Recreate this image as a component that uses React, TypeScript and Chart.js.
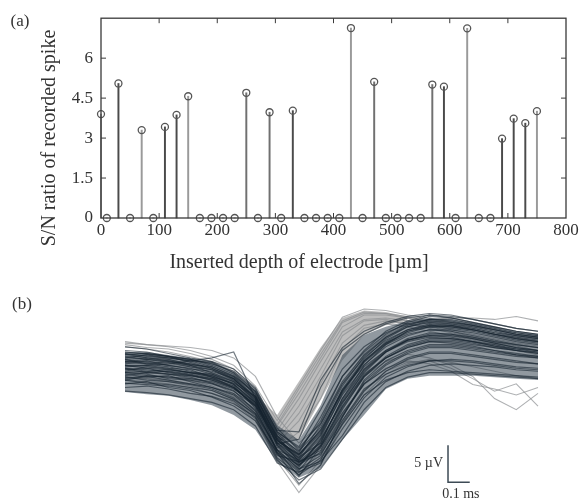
import React, { useEffect, useRef } from "react";
import { Chart, registerables } from "chart.js";
Chart.register(...registerables);

// ---------- Panel (a): S/N ratio vs inserted depth ----------
const depthsUm = [0, 10, 30, 50, 70, 90, 110, 130, 150, 170, 190, 210, 230, 250, 270, 290, 310, 330, 350, 370, 390, 410, 430, 450, 470, 490, 510, 530, 550, 570, 590, 610, 630, 650, 670, 690, 710, 730, 750];
const snRatio = [3.9, 0, 5.05, 0, 3.3, 0, 3.42, 3.87, 4.57, 0, 0, 0, 0, 4.7, 0, 3.97, 0, 4.03, 0, 0, 0, 0, 7.13, 0, 5.11, 0, 0, 0, 0, 5.01, 4.93, 0, 7.12, 0, 0, 2.98, 3.73, 3.56, 4.01];
const xTickValues = [0, 100, 200, 300, 400, 500, 600, 700, 800];
const yTickValues = [0, 1.5, 3, 4.5, 6];

// ---------- Panel (b): overlaid spike waveforms ----------
const sampleTimesMs = [0, 0.1, 0.2, 0.3, 0.4, 0.5, 0.6, 0.7, 0.8, 0.9, 1.0, 1.1, 1.2, 1.3, 1.4, 1.5, 1.6, 1.7, 1.8, 1.9];
const darkTracesUv: number[][] = [
  [3.6, 3.4, 3.1, 2.7, 2.0, 0.9, -1.4, -6.1, -8.1, -4.7, 0.7, 4.1, 6.5, 8.0, 8.8, 8.6, 8.0, 7.4, 6.8, 6.4],
  [5.5, 5.0, 4.8, 4.1, 3.8, 2.5, 0.2, -5.0, -7.0, -2.0, 3.5, 6.5, 8.4, 9.6, 10.2, 10.0, 9.4, 8.8, 8.2, 7.8],
  [1.5, 1.8, 1.0, 0.6, -0.3, -1.5, -3.5, -7.8, -9.5, -7.0, -2.5, 1.5, 3.5, 5.0, 5.8, 5.8, 5.4, 5.0, 4.6, 4.2],
  [4.2, 4.6, 4.0, 3.5, 3.2, 2.2, -0.5, -6.8, -9.8, -6.0, -1.0, 3.0, 5.8, 7.4, 8.2, 8.2, 7.6, 7.0, 6.4, 6.0],
  [2.8, 2.4, 2.6, 1.8, 1.0, 0.0, -2.5, -7.4, -8.8, -5.5, 0.0, 3.8, 6.0, 7.4, 8.0, 7.8, 7.2, 6.6, 6.0, 5.6],
  [6.5, 6.2, 5.6, 5.0, 4.5, 3.5, 1.0, -4.5, -7.5, -3.5, 2.5, 6.0, 8.6, 10.0, 10.8, 10.6, 10.2, 9.6, 9.0, 8.6],
  [0.5, 0.3, 0.0, -0.5, -1.0, -2.0, -4.2, -9.2, -10.5, -8.5, -4.0, 0.0, 2.0, 3.0, 3.4, 3.2, 3.0, 2.8, 2.6, 2.4],
  [3.2, 3.8, 3.5, 3.0, 2.6, 1.4, -1.0, -5.5, -9.0, -7.5, -2.0, 2.5, 5.0, 6.4, 7.2, 7.2, 6.8, 6.4, 6.0, 5.8],
  [4.8, 4.2, 4.5, 4.0, 3.0, 1.8, -0.8, -6.5, -8.5, -4.0, 1.5, 5.0, 7.4, 8.8, 9.4, 9.2, 8.8, 8.2, 7.6, 7.2],
  [2.0, 2.5, 2.0, 1.5, 1.0, 0.2, -2.0, -7.5, -10.0, -9.0, -5.5, -1.0, 1.8, 3.2, 4.0, 4.2, 4.0, 3.8, 3.4, 3.2],
  [5.0, 5.4, 5.0, 4.6, 4.4, 3.0, 0.5, -5.5, -8.0, -5.0, 0.5, 4.5, 7.0, 8.4, 9.2, 9.4, 8.8, 8.2, 7.8, 7.4],
  [3.0, 2.8, 2.2, 2.0, 1.5, 0.5, -1.5, -7.5, -11.0, -7.0, -1.5, 2.8, 5.0, 6.4, 7.2, 7.0, 6.6, 6.0, 5.6, 5.2],
  [4.0, 4.0, 3.6, 3.4, 2.4, 1.6, -0.2, -5.8, -8.4, -6.5, -0.5, 3.5, 6.0, 7.6, 8.4, 8.2, 7.8, 7.2, 6.8, 6.4],
  [1.0, 1.2, 0.8, 0.2, -0.2, -1.2, -3.0, -8.2, -9.0, -8.0, -3.5, 0.8, 2.8, 4.0, 4.6, 4.6, 4.4, 4.0, 3.6, 3.4],
  [5.8, 5.5, 5.2, 4.8, 4.0, 2.8, 0.0, -6.0, -9.0, -6.5, -0.5, 4.0, 6.8, 8.6, 9.4, 9.2, 8.8, 8.2, 7.6, 7.2],
  [3.5, 3.0, 3.2, 2.8, 2.2, 1.2, -1.8, -7.8, -12.0, -9.5, -3.0, 2.0, 4.6, 6.0, 6.8, 6.8, 6.4, 6.0, 5.4, 5.0],
  [2.4, 2.0, 1.8, 1.4, 0.8, -0.4, -2.8, -8.5, -10.8, -8.8, -3.8, 0.5, 3.2, 4.8, 5.6, 5.6, 5.2, 4.8, 4.4, 4.2],
  [4.5, 4.8, 4.4, 3.8, 3.4, 2.0, -0.2, -5.2, -7.8, -3.0, 2.5, 5.8, 8.2, 9.8, 10.6, 10.4, 9.8, 9.2, 8.6, 8.2],
  [6.0, 5.8, 5.2, 4.4, 3.6, 2.2, -0.8, -6.2, -8.2, -5.2, 0.8, 4.8, 7.6, 9.2, 10.0, 9.8, 9.4, 8.8, 8.2, 7.8],
  [2.2, 2.6, 2.4, 2.2, 1.8, 0.8, -1.2, -6.8, -9.4, -7.8, -2.8, 1.5, 4.0, 5.6, 6.4, 6.4, 6.0, 5.6, 5.2, 5.0],
  [3.8, 4.0, 4.2, 4.6, 5.0, 5.8, -0.5, -7.8, -10.2, -6.8, -1.2, 3.2, 5.8, 7.4, 8.0, 8.0, 7.6, 7.0, 6.4, 6.0],
  [4.6, 4.4, 4.0, 3.6, 2.8, 1.5, -1.0, -6.0, -8.8, -5.8, 0.2, 4.4, 6.8, 8.2, 8.8, 8.8, 8.4, 7.8, 7.2, 6.8],
  [3.4, 3.6, 3.0, 2.6, 2.0, 1.0, -1.6, -7.0, -9.6, -6.2, -0.8, 3.4, 5.8, 7.2, 7.8, 7.6, 7.2, 6.6, 6.2, 5.8],
  [5.2, 4.8, 4.6, 4.2, 3.6, 2.4, -0.2, -5.6, -7.6, -4.4, 1.2, 5.2, 7.8, 9.4, 10.2, 10.2, 9.6, 9.0, 8.4, 8.0],
  [1.6, 1.4, 1.2, 0.8, 0.2, -0.8, -3.2, -8.8, -11.5, -10.0, -6.0, -2.0, 1.0, 2.4, 3.0, 3.0, 2.8, 2.6, 2.4, 2.2],
  [2.6, 3.0, 2.8, 2.4, 1.6, 0.6, -2.2, -7.4, -10.0, -8.2, -3.0, 1.8, 4.2, 5.8, 6.6, 6.6, 6.2, 5.8, 5.4, 5.2],
  [4.4, 4.2, 3.8, 3.2, 2.6, 1.4, -1.2, -6.6, -6.0, 1.0, 6.0, 8.2, 9.6, 10.4, 10.8, 10.4, 9.8, 9.2, 8.6, 8.2],
  [5.6, 5.2, 5.0, 4.6, 3.8, 2.6, 0.4, -4.8, -5.0, 2.0, 6.4, 8.6, 9.8, 10.6, 11.0, 10.8, 10.2, 9.6, 9.0, 8.6],
  [3.0, 3.2, 3.4, 3.0, 2.4, 1.0, -1.4, -6.4, -9.2, -6.8, -1.6, 2.6, 5.2, 6.8, 7.6, 7.6, 7.2, 6.8, 6.2, 6.0],
  [4.0, 3.6, 3.4, 3.0, 2.8, 1.8, -0.6, -6.2, -8.0, -4.8, 0.4, 4.6, 7.2, 8.8, 9.6, 9.4, 9.0, 8.4, 8.0, 7.6],
  [2.0, 1.6, 1.4, 1.0, 0.6, -0.6, -2.6, -8.0, -10.4, -9.2, -4.6, -0.4, 2.4, 3.8, 4.6, 4.8, 4.6, 4.2, 3.8, 3.6],
  [5.4, 5.6, 5.2, 4.8, 4.2, 3.2, 0.8, -5.0, -7.2, -3.8, 1.8, 5.4, 7.8, 9.2, 9.8, 9.6, 9.2, 8.6, 8.0, 7.6],
  [3.6, 3.2, 2.8, 2.6, 2.2, 1.0, -1.0, -6.6, -9.2, -7.2, -1.8, 2.4, 5.0, 6.6, 7.4, 7.4, 7.0, 6.4, 6.0, 5.6],
  [4.8, 5.0, 4.6, 4.0, 3.4, 2.2, -0.4, -5.8, -8.6, -5.4, 0.6, 4.6, 7.0, 8.6, 9.2, 9.0, 8.6, 8.0, 7.4, 7.0],
];
const grayTracesUv: number[][] = [
  [6.5, 6.2, 5.8, 5.2, 4.5, 3.2, 0.5, -4.0, 0.8, 5.5, 10.0, 11.2, 11.0, 10.4, 9.8, 9.4, 8.8, 8.2, 7.6, 7.2],
  [5.0, 5.4, 4.8, 4.2, 3.5, 2.5, -0.5, -5.5, -1.5, 3.5, 8.5, 10.2, 10.4, 10.0, 9.6, 8.8, 8.2, 7.6, 7.0, 6.6],
  [4.0, 3.8, 3.6, 3.0, 2.4, 1.2, -1.5, -6.5, -3.5, 1.5, 7.0, 9.4, 10.0, 9.6, 9.2, 8.6, 7.8, 7.2, 6.6, 6.0],
  [7.2, 6.8, 6.5, 6.0, 5.2, 4.0, 1.2, -3.5, 1.2, 6.0, 10.5, 11.6, 11.4, 10.8, 10.4, 9.8, 9.2, 8.8, 8.4, 8.0],
  [3.2, 3.0, 2.8, 2.2, 1.6, 0.2, -2.5, -7.2, -5.0, -0.5, 6.2, 9.0, 9.6, 9.2, 8.6, 8.0, 7.4, 6.8, 6.0, 5.4],
  [5.8, 5.6, 5.2, 4.8, 4.2, 3.0, 0.0, -4.8, -0.5, 4.5, 9.2, 10.8, 10.8, 10.4, 10.0, 9.6, 9.0, 8.4, 7.8, 7.2],
  [6.8, 6.4, 6.2, 5.6, 4.8, 3.5, 0.8, -4.2, 0.2, 5.0, 9.8, 11.0, 11.0, 10.6, 10.2, 9.8, 9.4, 8.8, 8.2, 7.8],
  [4.5, 4.6, 4.2, 3.8, 3.0, 2.0, -1.0, -6.0, -2.5, 2.5, 8.0, 10.0, 10.2, 9.6, 9.0, 8.4, 7.8, 7.2, 6.6, 6.0],
  [2.5, 2.2, 2.0, 1.5, 1.0, -0.2, -2.5, -7.5, -9.5, -6.0, -1.0, 2.5, 4.5, 5.5, 5.0, 4.0, 2.5, -0.5, -2.0, 0.2],
  [7.0, 6.8, 6.6, 6.4, 6.0, 5.0, 2.5, -3.0, -6.5, -4.0, 1.5, 5.5, 8.0, 9.5, 10.2, 10.4, 10.4, 10.2, 10.6, 10.0],
  [2.0, 1.8, 1.5, 1.0, 0.2, -1.0, -3.5, -9.0, -13.2, -9.5, -4.0, 0.0, 2.8, 4.2, 4.8, 4.4, 3.8, 3.2, 2.6, 2.2],
  [2.4, 2.2, 1.8, 1.2, 0.6, -0.6, -3.0, -8.6, -12.2, -8.8, -3.4, 0.6, 3.2, 4.4, 4.6, 3.6, 2.2, 0.5, 1.5, -1.5],
  [3.0, 2.6, 2.4, 2.0, 1.2, 0.0, -2.2, -8.0, -10.8, -7.6, -2.4, 1.4, 3.6, 4.6, 4.2, 3.2, 1.4, 0.8, 0.0, 1.0],
];
const darkBandUpperUv = [5.8, 5.8, 5.4, 5.0, 4.5, 3.1, 0.7, -4.1, -6.1, -1.4, 5.4, 8.1, 9.2, 10.0, 10.4, 10.2, 9.8, 9.2, 8.6, 8.2];
const darkBandLowerUv = [0.4, 0.1, -0.1, -0.7, -1.4, -2.7, -4.7, -9.1, -11.2, -9.9, -6.1, -2.7, 0.8, 2.2, 2.6, 2.6, 2.6, 2.4, 2.2, 2.0];
const grayBandUpperUv = [null, null, null, null, null, null, 0.0, -2.7, 1.8, 6.4, 10.4, 11.4, 11.2, 10.6, null, null, null, null, null, null];
const grayBandLowerUv = [null, null, null, null, null, null, -0.7, -6.1, -6.1, -0.7, 4.7, 8.1, 9.4, 10.0, null, null, null, null, null, null];
const scaleBarOrigin = { timeMs: 1.486, uv: -11.8 };
const scaleBarUv = 5;
const scaleBarMs = 0.1;

const SERIF = '"Liberation Serif", "Times New Roman", serif';
const INK = "#333";

const stemDark = new Set([30, 110, 130, 330, 590, 690, 710, 730]);
const stemLight = new Set([0, 70, 150, 430, 630, 750]);
const stemColor = (d: number) => (stemDark.has(d) ? "#4a4a4a" : stemLight.has(d) ? "#9a9a9a" : "#707070");

const panelAPlugin = {
  id: "panelA",
  afterDraw(chart: any) {
    const { ctx, chartArea: a, scales } = chart;
    const xs = scales.x, ys = scales.y;
    ctx.save();
    ctx.strokeStyle = "#3a3a3a";
    ctx.lineWidth = 1.3;
    ctx.strokeRect(a.left, a.top, a.right - a.left, a.bottom - a.top);
    ctx.lineWidth = 1;
    const seg = (x1: number, y1: number, x2: number, y2: number) => {
      ctx.beginPath(); ctx.moveTo(x1, y1); ctx.lineTo(x2, y2); ctx.stroke();
    };
    xTickValues.forEach((v) => {
      if (v <= 0 || v >= 800) return;
      const px = xs.getPixelForValue(v);
      seg(px, a.top, px, a.top + 5);
      seg(px, a.bottom, px, a.bottom - 5);
    });
    yTickValues.forEach((v) => {
      if (v <= 0) return;
      const py = ys.getPixelForValue(v);
      seg(a.left, py, a.left + 5, py);
      seg(a.right, py, a.right - 5, py);
    });
    ctx.fillStyle = INK;
    ctx.font = `20px ${SERIF}`;
    ctx.textAlign = "center";
    ctx.textBaseline = "middle";
    ctx.fillText("Inserted depth of electrode [\u00b5m]", 299, 263);
    ctx.save();
    ctx.translate(50, 138);
    ctx.rotate(-Math.PI / 2);
    ctx.fillText("S/N ratio of recorded spike", 0, 0);
    ctx.restore();
    ctx.font = `17px ${SERIF}`;
    ctx.fillText("(a)", 20, 22);
    ctx.restore();
  },
};

const panelBPlugin = {
  id: "panelB",
  afterDraw(chart: any) {
    const { ctx, scales } = chart;
    const xs = scales.x, ys = scales.y;
    const x0 = xs.getPixelForValue(scaleBarOrigin.timeMs);
    const y0 = ys.getPixelForValue(scaleBarOrigin.uv);
    const yTop = ys.getPixelForValue(scaleBarOrigin.uv + scaleBarUv);
    const x1 = xs.getPixelForValue(scaleBarOrigin.timeMs + scaleBarMs);
    ctx.save();
    ctx.strokeStyle = "#3d4a55";
    ctx.lineWidth = 1.5;
    ctx.beginPath();
    ctx.moveTo(x0, yTop);
    ctx.lineTo(x0, y0);
    ctx.lineTo(x1, y0);
    ctx.stroke();
    ctx.fillStyle = INK;
    ctx.font = `14px ${SERIF}`;
    ctx.textAlign = "right";
    ctx.textBaseline = "middle";
    ctx.fillText("5 \u00b5V", x0 - 5, (y0 + yTop) / 2);
    ctx.textAlign = "center";
    ctx.fillText("0.1 ms", (x0 + x1) / 2 + 2, y0 + 12);
    ctx.font = `17px ${SERIF}`;
    ctx.fillText("(b)", 22, 25);
    ctx.restore();
  },
};

export default function App() {
  const refA = useRef<HTMLCanvasElement>(null);
  const refB = useRef<HTMLCanvasElement>(null);

  useEffect(() => {
    const chartA = new Chart(refA.current!, {
      type: "bar",
      data: {
        datasets: [
          {
            type: "scatter",
            data: depthsUm.map((d, i) => ({ x: d, y: snRatio[i] })),
            pointRadius: 3.5,
            pointBorderWidth: 1.3,
            pointBorderColor: "#555555",
            pointBackgroundColor: "rgba(0,0,0,0)",
            showLine: false,
            clip: false,
          } as any,
          {
            type: "bar",
            data: depthsUm.map((d, i) => ({ x: d, y: snRatio[i] })),
            backgroundColor: depthsUm.map(stemColor),
            barThickness: 1.3,
            borderWidth: 0,
            clip: false,
          } as any,
        ],
      },
      options: {
        responsive: false,
        animation: false,
        events: [],
        layout: { padding: { left: 0, top: 12, right: 16, bottom: 0 } },
        plugins: { legend: { display: false }, tooltip: { enabled: false } },
        scales: {
          x: {
            type: "linear",
            min: 0,
            max: 800,
            offset: false,
            grid: { display: false, drawTicks: false },
            border: { display: false },
            afterBuildTicks: (s: any) => { s.ticks = xTickValues.map((v) => ({ value: v })); },
            afterFit: (s: any) => { s.height = 62; },
            ticks: { color: INK, font: { family: SERIF, size: 17 }, padding: 2, maxRotation: 0, autoSkip: false },
          },
          y: {
            type: "linear",
            min: 0,
            max: 7.5,
            grid: { display: false, drawTicks: false },
            border: { display: false },
            afterBuildTicks: (s: any) => { s.ticks = yTickValues.map((v) => ({ value: v })); },
            afterFit: (s: any) => { s.width = 101; },
            ticks: { color: INK, font: { family: SERIF, size: 17 }, padding: 8 },
          },
        },
      } as any,
      plugins: [panelAPlugin],
    });

    const toPts = (arr: (number | null)[]) => arr.map((v, i) => ({ x: sampleTimesMs[i], y: v }));
    const datasets: any[] = [];
    darkTracesUv.forEach((t) =>
      datasets.push({ data: toPts(t), borderColor: "rgba(22,35,46,0.6)", borderWidth: 1.2, pointRadius: 0, fill: false, clip: false })
    );
    datasets.push({ data: toPts(darkBandUpperUv), borderWidth: 0, pointRadius: 0, fill: "+1", backgroundColor: "rgba(36,52,66,0.5)", clip: false });
    datasets.push({ data: toPts(darkBandLowerUv), borderWidth: 0, pointRadius: 0, fill: false, clip: false });
    grayTracesUv.forEach((t) =>
      datasets.push({ data: toPts(t), borderColor: "rgba(140,142,145,0.7)", borderWidth: 1.1, pointRadius: 0, fill: false, clip: false })
    );
    datasets.push({ data: toPts(grayBandUpperUv), borderWidth: 0, pointRadius: 0, fill: "+1", backgroundColor: "rgba(172,172,172,0.8)", spanGaps: false, clip: false });
    datasets.push({ data: toPts(grayBandLowerUv), borderWidth: 0, pointRadius: 0, fill: false, spanGaps: false, clip: false });

    const chartB = new Chart(refB.current!, {
      type: "line",
      data: { datasets },
      options: {
        responsive: false,
        animation: false,
        events: [],
        layout: { padding: { left: 125, top: 15, right: 44, bottom: 0 } },
        plugins: { legend: { display: false }, tooltip: { enabled: false } },
        elements: { line: { tension: 0 } },
        scales: {
          x: { type: "linear", min: 0, max: 1.9, display: false },
          y: { type: "linear", min: -14.2, max: 13.5, display: false },
        },
      } as any,
      plugins: [panelBPlugin],
    });

    return () => {
      chartA.destroy();
      chartB.destroy();
    };
  }, []);

  return (
    <div style={{ position: "absolute", left: 0, top: 0, width: 582, height: 500, background: "#fff" }}>
      <canvas ref={refA} width={582} height={280} style={{ position: "absolute", left: 0, top: 0, width: 582, height: 280 }} />
      <canvas ref={refB} width={582} height={220} style={{ position: "absolute", left: 0, top: 280, width: 582, height: 220 }} />
    </div>
  );
}
